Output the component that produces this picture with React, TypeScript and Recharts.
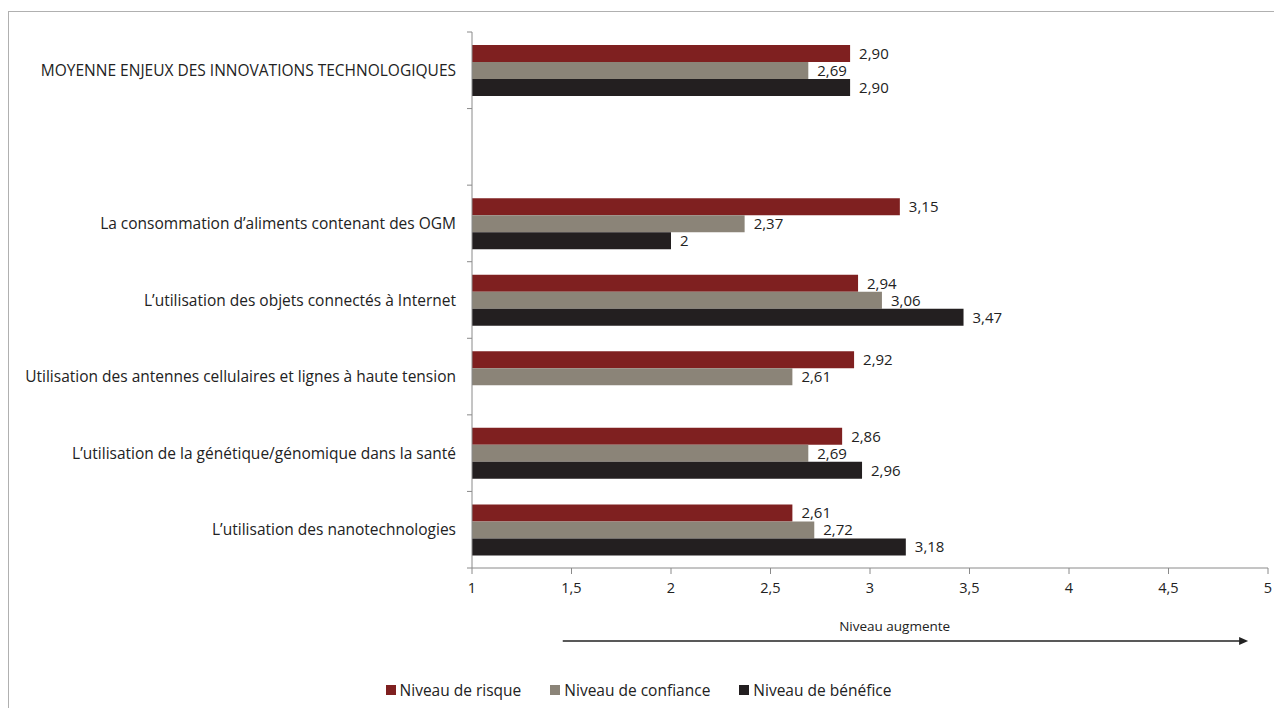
import React from 'react';
import { BarChart, Bar, XAxis, YAxis, LabelList, Legend } from 'recharts';

const categories = [
  'MOYENNE ENJEUX DES INNOVATIONS TECHNOLOGIQUES',
  ' ',
  'La consommation d’aliments contenant des OGM',
  'L’utilisation des objets connectés à Internet',
  'Utilisation des antennes cellulaires et lignes à haute tension',
  'L’utilisation de la génétique/génomique dans la santé',
  'L’utilisation des nanotechnologies',
];
const risque = [2.9, null, 3.15, 2.94, 2.92, 2.86, 2.61];
const confiance = [2.69, null, 2.37, 3.06, 2.61, 2.69, 2.72];
const benefice = [2.9, null, 2.0, 3.47, null, 2.96, 3.18];
const xTicks = [1, 1.5, 2, 2.5, 3, 3.5, 4, 4.5, 5];
const seriesNames = ['Niveau de risque', 'Niveau de confiance', 'Niveau de bénéfice'];
const seriesColors = ['#7F2020', '#8B8478', '#231F20'];
const arrowTitle = 'Niveau augmente';

const data = categories.map((c, i) => ({
  cat: c,
  risque: risque[i],
  confiance: confiance[i],
  benefice: benefice[i],
}));

const FONT = '"Open Sans", sans-serif';
const AXIS = '#8a8a8a';
const TICK_SIZE = 6;
const TICK_MARGIN = 10;

const fmtBar = (v: any) => {
  if (v === null || v === undefined || v === '') return '';
  const n = Number(v);
  return Number.isInteger(n) ? String(n) : n.toFixed(2).replace('.', ',');
};
const fmtTick = (v: any) => String(v).replace('.', ',');

const CatTick = (props: any) => {
  const { x, y, payload, height, visibleTicksCount, index } = props;
  const ax = x + TICK_SIZE + TICK_MARGIN;
  const band = height && visibleTicksCount ? height / visibleTicksCount : 0;
  return (
    <g>
      <text x={x} y={y} dy="0.355em" textAnchor="end" fontSize={15.5} fontFamily={FONT} fill="#222">
        {payload.value}
      </text>
      {band > 0 && <line x1={ax - 5} x2={ax} y1={y - band / 2} y2={y - band / 2} stroke={AXIS} />}
      {band > 0 && index === visibleTicksCount - 1 && (
        <line x1={ax - 5} x2={ax} y1={y + band / 2} y2={y + band / 2} stroke={AXIS} />
      )}
    </g>
  );
};

const ArrowLabel = (props: any) => {
  const vb = props.viewBox || {};
  const { x = 0, y = 0, width = 0 } = vb;
  const x1 = x + width * 0.114;
  const x2 = x + width * 0.975;
  const ya = y + 73;
  return (
    <g>
      <text x={x + width * 0.531} y={y + 58} textAnchor="middle" dominantBaseline="central" fontSize={13.5} fontFamily={FONT} fill="#222">
        {arrowTitle}
      </text>
      <line x1={x1} y1={ya} x2={x2 - 8} y2={ya} stroke="#222" strokeWidth={1.5} />
      <polygon points={`${x2 - 9},${ya - 4} ${x2},${ya} ${x2 - 9},${ya + 4}`} fill="#222" />
    </g>
  );
};

const LegendContent = () => (
  <div style={{ height: 36, display: 'flex', justifyContent: 'center', alignItems: 'center', fontFamily: FONT, fontSize: 15.5, color: '#222' }}>
    {seriesNames.map((n, i) => (
      <div key={n} style={{ display: 'flex', alignItems: 'center', marginRight: i < seriesNames.length - 1 ? 29 : 0 }}>
        <span style={{ width: 10, height: 10, background: seriesColors[i], display: 'inline-block', marginRight: 4 }} />
        <span>{n}</span>
      </div>
    ))}
  </div>
);

export default function App() {
  return (
    <div style={{ position: 'fixed', top: 11, left: 8, width: 1266, height: 697, borderTop: '1px solid #b0b0b0', borderLeft: '1px solid #b0b0b0', background: '#fff' }}>
      <BarChart
        width={1265}
        height={696}
        data={data}
        layout="vertical"
        margin={{ top: 20, right: 6, bottom: 0, left: 0 }}
        barCategoryGap="17%"
        barGap={0}
      >
        <XAxis
          type="number"
          domain={[1, 5]}
          ticks={xTicks}
          tickFormatter={fmtTick}
          stroke={AXIS}
          tick={{ fill: '#222', fontSize: 14.5, fontFamily: FONT }}
          tickSize={6}
          tickMargin={9}
          height={104}
          allowDataOverflow
          interval={0}
          label={<ArrowLabel />}
        />
        <YAxis
          type="category"
          dataKey="cat"
          width={463}
          stroke={AXIS}
          tickLine={false}
          tickSize={TICK_SIZE}
          tickMargin={TICK_MARGIN}
          interval={0}
          tick={<CatTick />}
        />
        <Legend verticalAlign="bottom" content={<LegendContent />} />
        <Bar dataKey="risque" name={seriesNames[0]} fill={seriesColors[0]} isAnimationActive={false}>
          <LabelList dataKey="risque" position="right" offset={9} formatter={fmtBar} style={{ fill: '#222', fontSize: 15, fontFamily: FONT }} />
        </Bar>
        <Bar dataKey="confiance" name={seriesNames[1]} fill={seriesColors[1]} isAnimationActive={false}>
          <LabelList dataKey="confiance" position="right" offset={9} formatter={fmtBar} style={{ fill: '#222', fontSize: 15, fontFamily: FONT }} />
        </Bar>
        <Bar dataKey="benefice" name={seriesNames[2]} fill={seriesColors[2]} isAnimationActive={false}>
          <LabelList dataKey="benefice" position="right" offset={9} formatter={fmtBar} style={{ fill: '#222', fontSize: 15, fontFamily: FONT }} />
        </Bar>
      </BarChart>
    </div>
  );
}
